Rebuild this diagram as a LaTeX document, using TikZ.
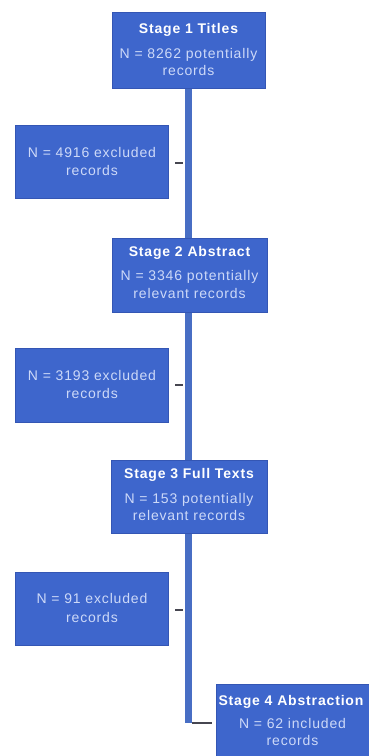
\documentclass[tikz,border=0pt]{standalone}
\usepackage{fontspec}
\setmainfont{Liberation Sans}
\definecolor{boxblue}{RGB}{62,102,204}
\definecolor{boxedge}{RGB}{52,86,180}
\definecolor{lineblue}{RGB}{72,110,196}
\definecolor{subtext}{RGB}{205,217,248}
\definecolor{tickgray}{RGB}{70,70,80}
\tikzset{
  stagebox/.style={draw=boxedge, line width=0.8pt, fill=boxblue, minimum width=154pt, minimum height=75pt, inner sep=0pt},
  exclbox/.style={draw=boxedge, line width=0.8pt, fill=boxblue, minimum width=153pt, minimum height=73pt, inner sep=0pt},
  titletext/.style={text=white, font=\fontsize{14}{15}\selectfont\bfseries\addfontfeature{LetterSpace=6}, inner sep=0pt},
  subtxt/.style={text=subtext, font=\fontsize{14}{15}\selectfont\addfontfeature{LetterSpace=6}, inner sep=0pt},
  mainline/.style={draw=lineblue, line width=7pt},
  tickline/.style={draw=tickgray, line width=2.5pt},
}
\begin{document}
\begin{tikzpicture}[x=1pt,y=1pt]
\useasboundingbox (0,0) rectangle (368,-756);
\fill[white] (0,0) rectangle (368,-756);
% main vertical connector
\coordinate (bend) at (188.5,-723);
\node[stagebox, minimum width=153pt, minimum height=76pt] (b1) at (188.5,-50) {};
\draw[mainline] (b1.south) -- (bend);
% stage boxes
\node[stagebox, minimum width=153pt, minimum height=76pt] (b1) at (188.5,-50) {};
\node[titletext] (t1) at (188.5,-30) {Stage 1 Titles};
\node[subtxt] (s1a) at (188.5,-55) {N = 8262 potentially};
\node[subtxt] (s1b) at (188.5,-70) {records};

\node[stagebox, minimum width=155pt, minimum height=74pt] (b2) at (189.5,-275) {};
\node[titletext] (t2) at (189.5,-253) {Stage 2 Abstract};
\node[subtxt] (s2a) at (189.5,-277) {N = 3346 potentially};
\node[subtxt] (s2b) at (189.5,-293) {relevant records};

\node[stagebox, minimum width=156pt, minimum height=73pt] (b3) at (189,-496.5) {};
\node[titletext] (t3) at (189,-475) {Stage 3 Full Texts};
\node[subtxt] (s3a) at (189,-500) {N = 153 potentially};
\node[subtxt] (s3b) at (189,-515) {relevant records};

% excluded boxes
\node[exclbox] (e1) at (91.5,-161.5) {};
\node[subtxt] (e1a) at (92,-152) {N = 4916 excluded};
\node[subtxt] (e1b) at (92,-170) {records};

\node[exclbox, minimum height=74pt] (e2) at (91.5,-385) {};
\node[subtxt] (e2a) at (92,-375) {N = 3193 excluded};
\node[subtxt] (e2b) at (92,-393) {records};

\node[exclbox] (e3) at (91.5,-608.5) {};
\node[subtxt] (e3a) at (92,-598) {N = 91 excluded};
\node[subtxt] (e3b) at (92,-617) {records};

% small ticks beside the line
\coordinate (k1) at (183,-163);
\coordinate (k2) at (183,-385);
\coordinate (k3) at (183,-610);
\draw[tickline] (e1.east |- k1) ++(7,0) -- (k1);
\draw[tickline] (e2.east |- k2) ++(7,0) -- (k2);
\draw[tickline] (e3.east |- k3) ++(7,0) -- (k3);

% stage 4
\node[stagebox, minimum width=154pt, minimum height=76pt, anchor=north west] (b4) at (216,-684) {};
\node[titletext] (t4) at (291,-702) {Stage 4 Abstraction};
\node[subtxt] (s4a) at (292.5,-723) {N = 62 included};
\node[subtxt] (s4b) at (292.5,-740) {records};
\draw[tickline] ([xshift=3.5pt]bend) -- ([xshift=-4pt]b4.west |- bend);
\end{tikzpicture}
\end{document}
